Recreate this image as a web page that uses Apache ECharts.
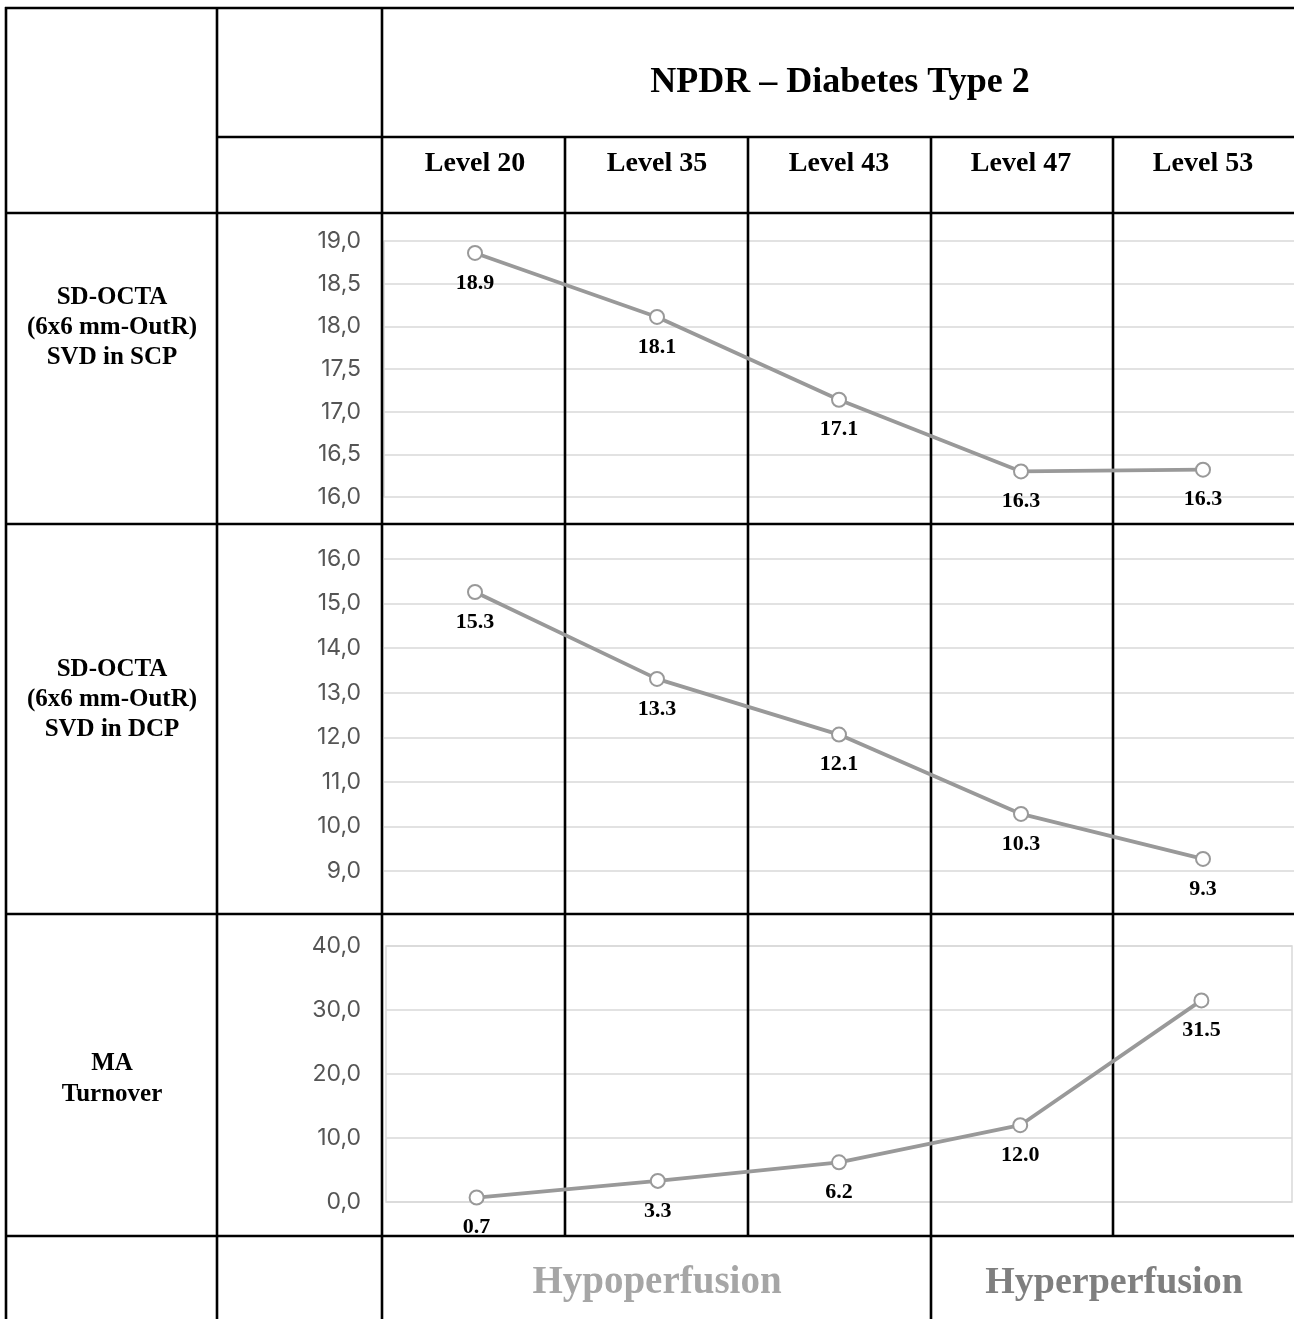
<!DOCTYPE html>
<html>
<head>
<meta charset="utf-8">
<script src="https://cdn.jsdelivr.net/npm/echarts@6/dist/echarts.min.js"></script>
<style>
  html, body { margin: 0; padding: 0; background: #fff; }
  #chart { width: 1294px; height: 1319px; }
</style>
</head>
<body>
<div id="chart"></div>
<script>
// ---- data ----
const levels = ['Level 20', 'Level 35', 'Level 43', 'Level 47', 'Level 53'];
const scpValues = [18.86, 18.11, 17.14, 16.30, 16.32];
const dcpValues = [15.26, 13.31, 12.06, 10.28, 9.27];
const maValues = [0.7, 3.3, 6.2, 12.0, 31.5];
const title = 'NPDR \u2013 Diabetes Type 2';
const rowLabels = [
  'SD-OCTA\n(6x6 mm-OutR)\nSVD in SCP',
  'SD-OCTA\n(6x6 mm-OutR)\nSVD in DCP',
  'MA\nTurnover'
];
const bottomLabels = ['Hypoperfusion', 'Hyperperfusion'];

// ---- styling ----
const SERIF = '"Liberation Serif", "Times New Roman", serif';
const SANS = 'Inter, "Liberation Sans", sans-serif';
const LINE = '#999999';
const GRIDC = '#d9d9d9';

function yAxis(gridIndex, min, max, interval, margin, axisLine) {
  return {
    type: 'value', gridIndex, min, max, interval,
    axisLine: { show: axisLine, lineStyle: { color: GRIDC, width: 1.5 } },
    axisTick: { show: false },
    splitLine: { show: true, lineStyle: { color: GRIDC, width: 1.5 } },
    axisLabel: {
      margin, fontFamily: SANS, fontSize: 23, color: '#555555',
      formatter: v => v.toFixed(1).replace('.', ',')
    }
  };
}
function xAxis(gridIndex, showLabels) {
  return {
    type: 'category', gridIndex, data: levels, boundaryGap: true,
    position: showLabels ? 'top' : 'bottom',
    axisLine: { show: false }, axisTick: { show: false }, splitLine: { show: false },
    axisLabel: {
      show: showLabels, margin: 63, fontFamily: SERIF, fontWeight: 'bold',
      fontSize: 28, color: '#000'
    }
  };
}
function series(idx, data) {
  return {
    type: 'line', xAxisIndex: idx, yAxisIndex: idx, data,
    symbol: 'emptyCircle', symbolSize: 14,
    lineStyle: { color: LINE, width: 3.8 },
    itemStyle: { color: LINE, borderWidth: 3.5 },
    label: {
      show: true, position: 'bottom', distance: 11,
      fontFamily: SERIF, fontWeight: 'bold', fontSize: 22, color: '#000',
      formatter: p => p.value.toFixed(1)
    },
    z: 5, animation: false
  };
}

// ---- table lines ----
const W = 2.6;
function hl(y, x1, x2) {
  return { type: 'line', z: 3, shape: { x1, y1: y, x2, y2: y }, style: { stroke: '#000', lineWidth: W } };
}
function vl(x, y1, y2) {
  return { type: 'line', z: 3, shape: { x1: x, y1, x2: x, y2 }, style: { stroke: '#000', lineWidth: W } };
}
function txt(x, y, text, size, color, lh) {
  return {
    type: 'text', z: 4, x, y,
    style: {
      text, fontFamily: SERIF, fontWeight: 'bold', fontSize: size, fill: color,
      align: 'center', verticalAlign: 'middle', lineHeight: lh || size
    }
  };
}

const graphics = [
  hl(8, 5, 1300), hl(137, 217, 1300), hl(213, 5, 1300),
  hl(524, 5, 1300), hl(914, 5, 1300), hl(1236, 5, 1300),
  vl(6, 7, 1320), vl(217, 7, 1320), vl(382, 7, 1320),
  vl(565, 137, 1236), vl(748, 137, 1236), vl(1113, 137, 1236),
  vl(931, 137, 1320),
  txt(840, 83, title, 36, '#000'),
  txt(112, 328, rowLabels[0], 25, '#000', 30),
  txt(112, 700, rowLabels[1], 25, '#000', 30),
  txt(112, 1079, rowLabels[2], 25, '#000', 31),
  txt(657, 1283, bottomLabels[0], 39, '#a6a6a6'),
  txt(1114, 1283, bottomLabels[1], 38, '#7f7f7f')
];

const chart = echarts.init(document.getElementById('chart'), null, { renderer: 'canvas' });
chart.setOption({
  backgroundColor: '#fff',
  animation: false,
  grid: [
    { left: 384, top: 241, width: 912, height: 256 },
    { left: 384, top: 559, width: 912, height: 312 },
    { left: 386, top: 946, width: 906, height: 256, show: true, borderColor: GRIDC, borderWidth: 1.5, backgroundColor: 'transparent' }
  ],
  xAxis: [xAxis(0, true), xAxis(1, false), xAxis(2, false)],
  yAxis: [
    yAxis(0, 16, 19, 0.5, 23, true),
    yAxis(1, 9, 16, 1, 23, false),
    yAxis(2, 0, 40, 10, 25, false)
  ],
  series: [series(0, scpValues), series(1, dcpValues), series(2, maValues)],
  graphic: graphics
});
</script>
</body>
</html>
